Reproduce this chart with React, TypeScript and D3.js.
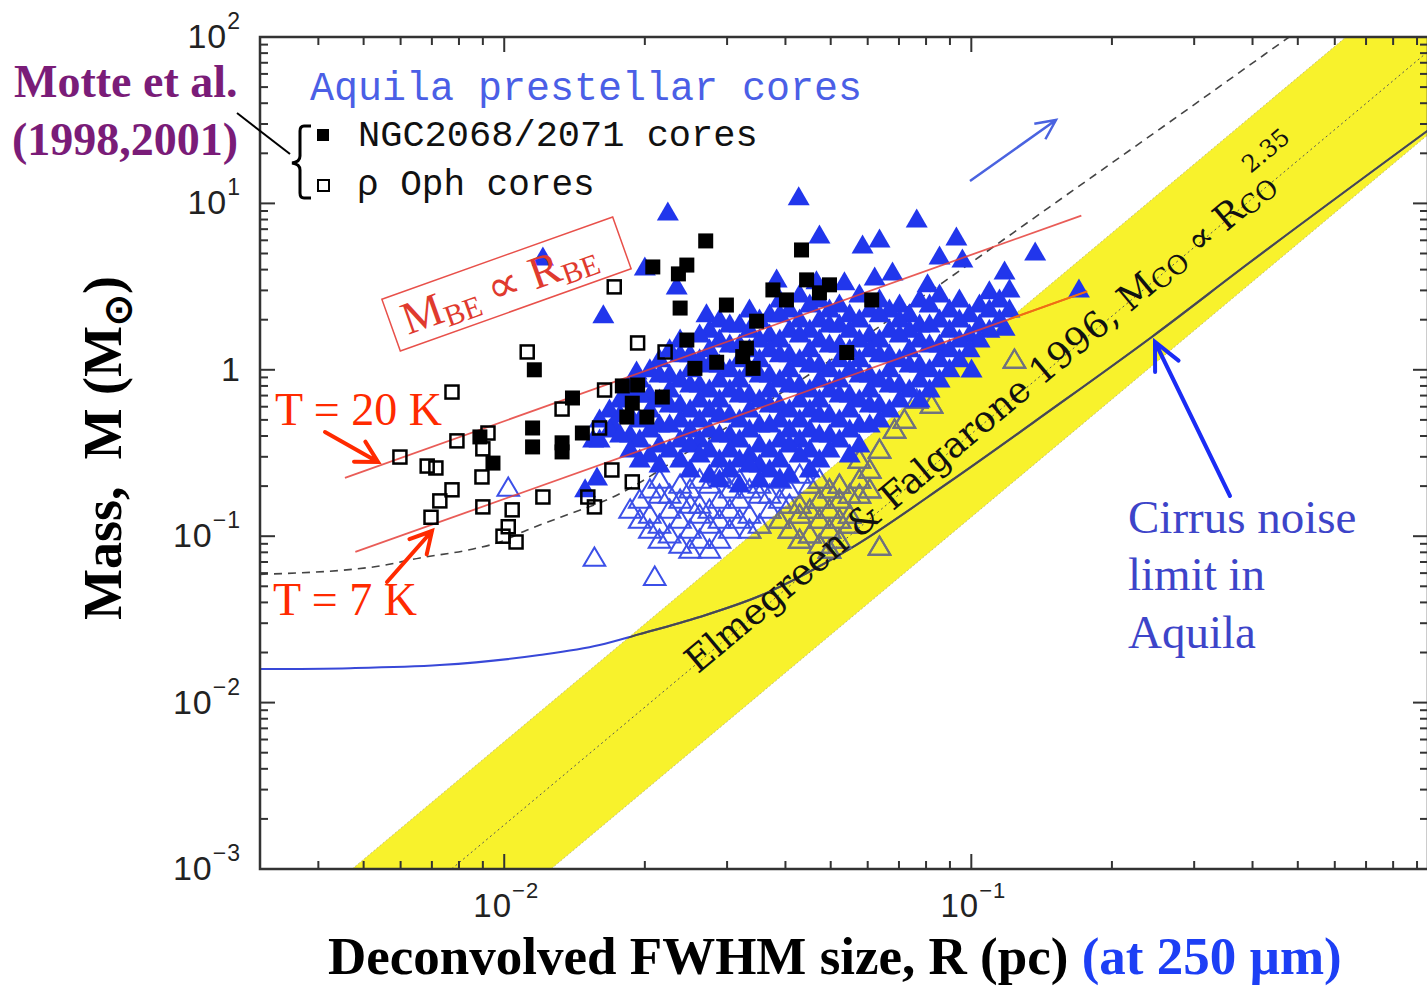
import React from 'react';
import * as d3 from 'd3';

type Pt = [number, number];

// Size R (pc) and mass M (Msun) of the cores

// NGC2068/2071 cores (Motte et al. 2001) – filled squares
const ngcCores: Pt[] = [
  [0.0270, 5.95], [0.0208, 4.15], [0.0246, 4.26], [0.0236, 3.77], [0.0238, 2.35], [0.0299, 2.45],
  [0.0433, 5.25], [0.0444, 3.47], [0.0497, 3.24], [0.0473, 2.90], [0.0376, 3.02], [0.0402, 2.63],
  [0.0347, 1.96], [0.0246, 1.51], [0.0330, 1.35], [0.0324, 1.20], [0.0341, 1.02], [0.0285, 1.11],
  [0.0256, 1.02], [0.0193, 0.81], [0.0179, 0.80], [0.0188, 0.63], [0.0218, 0.686], [0.0202, 0.52],
  [0.0183, 0.52], [0.0147, 0.417], [0.0116, 1.00], [0.0115, 0.447], [0.0115, 0.344], [0.0133, 0.364],
  [0.0133, 0.321], [0.0140, 0.677], [0.00946, 0.275], [0.00887, 0.395], [0.0541, 1.27], [0.0612, 2.63],
];

// rho Oph cores (Motte et al. 1998) – open squares
const ophCores: Pt[] = [
  [0.0172, 3.15], [0.0112, 1.28], [0.0193, 1.45], [0.00773, 0.735], [0.00598, 0.299], [0.00684, 0.264],
  [0.00714, 0.257], [0.00792, 0.374], [0.00923, 0.417], [0.00900, 0.335], [0.00896, 0.227], [0.00773, 0.190],
  [0.00728, 0.163], [0.00697, 0.130], [0.00900, 0.150], [0.0104, 0.144], [0.0102, 0.114], [0.00994, 0.100],
  [0.0106, 0.0923], [0.0121, 0.172], [0.0164, 0.756], [0.0160, 0.447], [0.0170, 0.250], [0.0188, 0.212],
  [0.0151, 0.172], [0.0156, 0.150], [0.0221, 1.28], [0.0133, 0.581],
];

// Aquila prestellar cores – filled triangles
const aquilaPrestellar: Pt[] = [
  [0.0224, 8.75], [0.0427, 10.8], [0.0764, 7.95], [0.0473, 6.37], [0.0585, 5.55], [0.0636, 6.03],
  [0.0929, 6.20], [0.137, 5.03], [0.0855, 4.76], [0.0957, 4.57], [0.1178, 3.87], [0.0200, 4.09],
  [0.0234, 3.15], [0.0163, 2.11], [0.0271, 2.14], [0.0121, 4.70], [0.170, 3.02], [0.0383, 3.47],
  [0.0466, 3.38], [0.0535, 3.33], [0.0621, 3.56], [0.0678, 3.82], [0.0806, 3.24], [0.1093, 2.94],
  [0.1207, 3.02], [0.1178, 1.78], [0.1001, 0.997], [0.0192, 0.970], [0.0155, 0.379], [0.0171, 0.466],
  [0.0149, 0.190], [0.0158, 0.224],
  [0.0389, 2.63], [0.0429, 2.82], [0.0473, 2.63], [0.0522, 2.45], [0.0576, 2.82], [0.0636, 2.63],
  [0.0702, 2.45], [0.0775, 2.63], [0.0855, 2.82], [0.0943, 2.63], [0.1041, 2.45], [0.1149, 2.63],
  [0.0335, 2.29], [0.0370, 2.14], [0.0408, 2.29], [0.0451, 2.45], [0.0497, 2.29], [0.0549, 2.14],
  [0.0606, 2.29], [0.0668, 2.29], [0.0737, 2.14], [0.0814, 2.45], [0.0898, 2.29], [0.0991, 2.14],
  [0.1093, 2.29], [0.1207, 2.29],
  [0.0289, 1.99], [0.0319, 1.86], [0.0352, 1.99], [0.0389, 2.14], [0.0429, 1.99], [0.0473, 1.99],
  [0.0522, 1.86], [0.0576, 1.99], [0.0636, 2.14], [0.0702, 1.99], [0.0775, 1.86], [0.0855, 1.99],
  [0.0943, 1.99], [0.1041, 1.86], [0.1149, 1.99],
  [0.0275, 1.73], [0.0304, 1.86], [0.0335, 1.73], [0.0370, 1.62], [0.0408, 1.73], [0.0451, 1.73],
  [0.0497, 1.86], [0.0549, 1.73], [0.0606, 1.62], [0.0668, 1.73], [0.0737, 1.73], [0.0814, 1.86],
  [0.0898, 1.73], [0.0991, 1.62], [0.1093, 1.73],
  [0.0238, 1.51], [0.0262, 1.62], [0.0289, 1.51], [0.0319, 1.41], [0.0352, 1.51], [0.0389, 1.51],
  [0.0429, 1.62], [0.0473, 1.51], [0.0522, 1.41], [0.0576, 1.51], [0.0636, 1.51], [0.0702, 1.62],
  [0.0775, 1.51], [0.0855, 1.41], [0.0943, 1.51], [0.1041, 1.51],
  [0.0226, 1.32], [0.0250, 1.23], [0.0275, 1.32], [0.0304, 1.41], [0.0335, 1.32], [0.0370, 1.32],
  [0.0408, 1.23], [0.0451, 1.32], [0.0497, 1.41], [0.0549, 1.32], [0.0606, 1.32], [0.0668, 1.23],
  [0.0737, 1.32], [0.0814, 1.41], [0.0898, 1.32], [0.0991, 1.32],
  [0.0215, 1.15], [0.0238, 1.23], [0.0262, 1.15], [0.0289, 1.07], [0.0319, 1.15], [0.0352, 1.15],
  [0.0389, 1.23], [0.0429, 1.15], [0.0473, 1.07], [0.0522, 1.15], [0.0576, 1.15], [0.0636, 1.23],
  [0.0702, 1.15], [0.0775, 1.07], [0.0855, 1.15], [0.0943, 1.15],
  [0.0205, 1.00], [0.0226, 0.93], [0.0250, 1.00], [0.0275, 1.07], [0.0304, 1.00], [0.0335, 1.00],
  [0.0370, 0.93], [0.0408, 1.00], [0.0451, 1.07], [0.0497, 1.00], [0.0549, 1.00], [0.0606, 0.93],
  [0.0668, 1.00], [0.0737, 1.07], [0.0814, 1.00], [0.0898, 1.00],
  [0.0195, 0.868], [0.0215, 0.93], [0.0238, 0.868], [0.0262, 0.81], [0.0289, 0.868], [0.0319, 0.868],
  [0.0352, 0.93], [0.0389, 0.868], [0.0429, 0.81], [0.0473, 0.868], [0.0522, 0.868], [0.0576, 0.93],
  [0.0636, 0.868], [0.0702, 0.81], [0.0775, 0.868], [0.0855, 0.868],
  [0.0186, 0.756], [0.0205, 0.705], [0.0226, 0.756], [0.0250, 0.81], [0.0275, 0.756], [0.0304, 0.756],
  [0.0335, 0.705], [0.0370, 0.756], [0.0408, 0.81], [0.0451, 0.756], [0.0497, 0.756], [0.0549, 0.705],
  [0.0606, 0.756], [0.0668, 0.81], [0.0737, 0.756], [0.0814, 0.756],
  [0.0177, 0.658], [0.0195, 0.705], [0.0215, 0.658], [0.0238, 0.614], [0.0262, 0.658], [0.0289, 0.658],
  [0.0319, 0.705], [0.0352, 0.658], [0.0389, 0.614], [0.0429, 0.658], [0.0473, 0.658], [0.0522, 0.705],
  [0.0576, 0.658], [0.0636, 0.614], [0.0702, 0.658], [0.0775, 0.658],
  [0.0168, 0.573], [0.0186, 0.535], [0.0205, 0.573], [0.0226, 0.614], [0.0250, 0.573], [0.0275, 0.573],
  [0.0304, 0.535], [0.0335, 0.573], [0.0370, 0.614], [0.0408, 0.573], [0.0451, 0.573], [0.0497, 0.535],
  [0.0549, 0.573], [0.0606, 0.614], [0.0668, 0.573],
  [0.0160, 0.499], [0.0177, 0.535], [0.0195, 0.499], [0.0215, 0.466], [0.0238, 0.499], [0.0262, 0.499],
  [0.0289, 0.535], [0.0319, 0.499], [0.0352, 0.466], [0.0389, 0.499], [0.0429, 0.499], [0.0473, 0.535],
  [0.0522, 0.499], [0.0576, 0.466], [0.0636, 0.499],
  [0.0168, 0.435], [0.0186, 0.406], [0.0205, 0.435], [0.0226, 0.466], [0.0250, 0.435], [0.0275, 0.435],
  [0.0304, 0.406], [0.0335, 0.435], [0.0370, 0.466], [0.0408, 0.435], [0.0451, 0.435], [0.0497, 0.406],
  [0.0549, 0.435], [0.0606, 0.466],
  [0.0160, 0.379], [0.0177, 0.406], [0.0195, 0.379], [0.0215, 0.353], [0.0238, 0.379], [0.0262, 0.379],
  [0.0289, 0.406], [0.0319, 0.379], [0.0352, 0.353], [0.0389, 0.379], [0.0429, 0.379], [0.0473, 0.406],
  [0.0522, 0.379], [0.0576, 0.353],
  [0.0186, 0.330], [0.0205, 0.308], [0.0226, 0.330], [0.0250, 0.353], [0.0275, 0.330], [0.0304, 0.330],
  [0.0335, 0.308], [0.0370, 0.330], [0.0408, 0.353], [0.0451, 0.330], [0.0497, 0.330], [0.0549, 0.308],
  [0.0195, 0.287], [0.0215, 0.268], [0.0238, 0.287], [0.0262, 0.308], [0.0289, 0.287], [0.0319, 0.287],
  [0.0352, 0.268], [0.0389, 0.287], [0.0429, 0.308], [0.0473, 0.287],
  [0.0250, 0.250], [0.0275, 0.233], [0.0304, 0.250], [0.0335, 0.268], [0.0370, 0.250], [0.0408, 0.233],
  [0.0451, 0.250],
  [0.0289, 0.218], [0.0319, 0.203], [0.0352, 0.218], [0.0389, 0.218],
];

// Aquila unbound starless cores – open triangles
const aquilaStarless: Pt[] = [
  [0.0102, 0.195], [0.0156, 0.0740], [0.0210, 0.0568], [0.0636, 0.0861], [0.1237, 1.145],
  [0.0215, 0.218], [0.0238, 0.203], [0.0262, 0.218], [0.0289, 0.233], [0.0319, 0.218], [0.0352, 0.203],
  [0.0389, 0.218], [0.0429, 0.233], [0.0473, 0.218], [0.0522, 0.203],
  [0.0205, 0.190], [0.0226, 0.177], [0.0250, 0.190], [0.0275, 0.203], [0.0304, 0.190], [0.0335, 0.190],
  [0.0370, 0.177], [0.0408, 0.190], [0.0451, 0.203], [0.0497, 0.190], [0.0549, 0.177],
  [0.0195, 0.165], [0.0215, 0.177], [0.0238, 0.165], [0.0262, 0.154], [0.0289, 0.165], [0.0319, 0.165],
  [0.0352, 0.177], [0.0389, 0.165], [0.0429, 0.154], [0.0473, 0.165], [0.0522, 0.165], [0.0576, 0.177],
  [0.0186, 0.144], [0.0205, 0.134], [0.0226, 0.144], [0.0250, 0.154], [0.0275, 0.144], [0.0304, 0.144],
  [0.0335, 0.134], [0.0370, 0.144], [0.0408, 0.154], [0.0451, 0.144], [0.0497, 0.144], [0.0549, 0.134],
  [0.0195, 0.125], [0.0215, 0.117], [0.0238, 0.125], [0.0262, 0.134], [0.0289, 0.125], [0.0319, 0.125],
  [0.0352, 0.117], [0.0389, 0.125], [0.0429, 0.134], [0.0473, 0.125], [0.0522, 0.125],
  [0.0205, 0.109], [0.0226, 0.102], [0.0250, 0.109], [0.0275, 0.117], [0.0304, 0.109], [0.0335, 0.109],
  [0.0408, 0.109], [0.0451, 0.102], [0.0497, 0.109], [0.0549, 0.117],
  [0.0215, 0.0949], [0.0238, 0.0886], [0.0262, 0.0949], [0.0289, 0.0949], [0.0429, 0.0949],
  [0.0473, 0.0886], [0.0522, 0.0949],
  [0.0250, 0.0826], [0.0275, 0.0826], [0.0497, 0.0826],
  [0.0606, 0.250], [0.0576, 0.287], [0.0636, 0.330], [0.0685, 0.435], [0.0719, 0.499], [0.0764, 0.658],
  [0.0822, 0.614], [0.0576, 0.218], [0.0606, 0.190],
];

// Cirrus-noise completeness limit in Aquila
const cirrusLimit: Pt[] = [
  [0.00300, 0.0159], [0.00468, 0.0161], [0.00728, 0.0168], [0.0119, 0.0193], [0.0160, 0.0222],
  [0.0195, 0.0258], [0.0262, 0.0327], [0.0352, 0.0437], [0.0549, 0.0838], [0.0898, 0.212],
  [0.147, 0.566], [0.243, 1.57], [0.393, 4.38], [0.959, 28.0],
];

// Dashed detection-limit curve
const detectionLimit: Pt[] = [
  [0.00300, 0.0590], [0.00524, 0.0653], [0.00660, 0.0740], [0.00858, 0.0838], [0.00979, 0.0923],
  [0.0112, 0.109], [0.0132, 0.130], [0.0171, 0.172], [0.0262, 0.357], [0.0429, 0.858],
  [0.0636, 1.82], [0.0867, 3.33], [0.147, 9.51], [0.264, 30.4], [0.479, 100],
];

// Critical Bonnor-Ebert masses, M_BE ∝ R_BE
const bonnorEbert20K: Pt[] = [[0.00456, 0.224], [0.172, 8.45]];
const bonnorEbert7K: Pt[] = [[0.00480, 0.0804], [0.177, 2.96]];

// Elmegreen & Falgarone (1996) CO clump relation, M ∝ R^2.35
const larsonIndex = 2.35;
const larsonLogNorm = 1.965;
const larsonHalfWidthDex = 0.5;

const xTickLabels = [
  { value: 0.01, exp: '\u22122' },
  { value: 0.1, exp: '\u22121' },
];
const yTickLabels = [
  { value: 100, exp: '2' },
  { value: 10, exp: '1' },
  { value: 1, exp: '' },
  { value: 0.1, exp: '\u22121' },
  { value: 0.01, exp: '\u22122' },
  { value: 0.001, exp: '\u22123' },
];

const X0 = 260, X1 = 1428, Y0 = 37, Y1 = 869;

const FILLED_TRI = 'M0,-11.5L11,7.5L-11,7.5Z';
const OPEN_TRI = 'M0,-10.5L10.8,7.8L-10.8,7.8Z';

function arrow(x1: number, y1: number, x2: number, y2: number, len: number, spread: number) {
  const a = Math.atan2(y2 - y1, x2 - x1);
  const b1 = a + Math.PI - spread;
  const b2 = a + Math.PI + spread;
  return `M${x1},${y1}L${x2},${y2}M${x2 + len * Math.cos(b1)},${y2 + len * Math.sin(b1)}L${x2},${y2}L${x2 + len * Math.cos(b2)},${y2 + len * Math.sin(b2)}`;
}

export default function App() {
  const x = d3.scaleLog().domain([0.003, 0.95]).range([X0, X1]);
  const y = d3.scaleLog().domain([1e-3, 1e2]).range([Y1, Y0]);
  const straight = d3.line<Pt>().x(d => x(d[0])).y(d => y(d[1]));
  const smooth = d3.line<Pt>().x(d => x(d[0])).y(d => y(d[1])).curve(d3.curveMonotoneX);

  const larson = (r: number, off: number) =>
    Math.pow(10, larsonLogNorm + off + larsonIndex * Math.log10(r));
  const [r0, r1] = x.domain();
  const band: Pt[] = [
    [r0, larson(r0, larsonHalfWidthDex)],
    [r1, larson(r1, larsonHalfWidthDex)],
    [r1, larson(r1, -larsonHalfWidthDex)],
    [r0, larson(r0, -larsonHalfWidthDex)],
  ];
  const bandPath = straight(band) + 'Z';
  const upperEdge: Pt[] = [band[0], band[1]];
  const lowerEdge: Pt[] = [band[3], band[2]];
  const centre: Pt[] = [[r0, larson(r0, 0)], [r1, larson(r1, 0)]];

  const rA = x.invert(692);
  const rB = x.invert(1300);
  const pA: Pt = [x(rA), y(larson(rA, 0))];
  const pB: Pt = [x(rB), y(larson(rB, 0))];
  const bandAngle = (Math.atan2(pB[1] - pA[1], pB[0] - pA[0]) * 180) / Math.PI;

  const isMajor = (v: number) => Math.abs(Math.log10(v) - Math.round(Math.log10(v))) < 1e-6;
  const xt = x.ticks();
  const yt = y.ticks();

  const blue = '#2136ec';
  const openBlue = '#3b4fe8';
  const red = '#e5403a';
  const annotRed = '#ff2a00';

  return (
    <svg width={1427} height={986} style={{ position: 'absolute', left: 0, top: 0, background: '#fff' }}>
      <defs>
        <clipPath id="plotArea">
          <rect x={X0} y={Y0} width={X1 - X0} height={Y1 - Y0} />
        </clipPath>
        <clipPath id="bandArea">
          <path d={bandPath} />
        </clipPath>
      </defs>
      <rect x={0} y={0} width={1427} height={986} fill="#fff" />

      <g clipPath="url(#plotArea)">
        {/* CO clump band */}
        <path d={bandPath} fill="#f8f22c" />
        <path d={straight(upperEdge)!} fill="none" stroke="#c9c27a" strokeWidth={1} strokeDasharray="2,2" />
        <path d={straight(lowerEdge)!} fill="none" stroke="#c9c27a" strokeWidth={1} strokeDasharray="2,2" />
        <path d={straight(centre)!} fill="none" stroke="#555" strokeWidth={1} strokeDasharray="2,3" />

        {/* detection limit */}
        <path d={smooth(detectionLimit)!} fill="none" stroke="#444" strokeWidth={1.6} strokeDasharray="8,6" />

        {/* cirrus noise limit */}
        <path d={smooth(cirrusLimit)!} fill="none" stroke="#3848d8" strokeWidth={2} />
        <path d={smooth(cirrusLimit)!} fill="none" stroke="#4a4a4a" strokeWidth={2} clipPath="url(#bandArea)" />

        {/* unbound starless cores */}
        <g fill="none" stroke={openBlue} strokeWidth={2}>
          {aquilaStarless.map((d, i) => (
            <path key={i} d={OPEN_TRI} transform={`translate(${x(d[0])},${y(d[1])})`} />
          ))}
        </g>
        <g fill="none" stroke="#747474" strokeWidth={2} clipPath="url(#bandArea)">
          {aquilaStarless.map((d, i) => (
            <path key={i} d={OPEN_TRI} transform={`translate(${x(d[0])},${y(d[1])})`} />
          ))}
        </g>

        {/* prestellar cores */}
        <g fill={blue}>
          {aquilaPrestellar.map((d, i) => (
            <path key={i} d={FILLED_TRI} transform={`translate(${x(d[0])},${y(d[1])})`} />
          ))}
        </g>

        {/* Bonnor-Ebert lines */}
        <path d={straight(bonnorEbert20K)!} stroke={red} strokeWidth={1.8} opacity={0.85} fill="none" />
        <path d={straight(bonnorEbert7K)!} stroke={red} strokeWidth={1.8} opacity={0.85} fill="none" />
        <path d={straight(bonnorEbert7K)!} stroke="#f07010" strokeWidth={1.8} fill="none" clipPath="url(#bandArea)" />

        {/* Motte et al. cores */}
        <g fill="#000">
          {ngcCores.map((d, i) => (
            <rect key={i} x={x(d[0]) - 7.5} y={y(d[1]) - 7.5} width={15} height={15} />
          ))}
        </g>
        <g fill="none" stroke="#000" strokeWidth={2.5}>
          {ophCores.map((d, i) => (
            <rect key={i} x={x(d[0]) - 6.5} y={y(d[1]) - 6.5} width={13} height={13} />
          ))}
        </g>
      </g>

      {/* band label */}
      <text
        transform={`translate(${pA[0]},${pA[1]}) rotate(${bandAngle})`}
        y={9}
        fontFamily="DejaVu Serif"
        fontSize={36}
        fill="#111"
      >
        Elmegreen &amp; Falgarone 1996, M<tspan fontSize={26} dy={3}>CO</tspan>
        <tspan dy={-3}> ∝ R</tspan>
        <tspan fontSize={26} dy={3}>CO</tspan>
        <tspan fontSize={24} dy={-32} dx={-12}>2.35</tspan>
      </text>

      {/* frame and ticks */}
      <rect x={X0} y={Y0} width={X1 - X0} height={Y1 - Y0} fill="none" stroke="#333" strokeWidth={2.5} />
      <g stroke="#333" strokeWidth={2}>
        {xt.map((v, i) => {
          const len = isMajor(v) ? 15 : 8;
          const px = x(v);
          return (
            <g key={i}>
              <line x1={px} x2={px} y1={Y1} y2={Y1 - len} />
              <line x1={px} x2={px} y1={Y0} y2={Y0 + len} />
            </g>
          );
        })}
        {yt.map((v, i) => {
          const len = isMajor(v) ? 15 : 8;
          const py = y(v);
          return (
            <g key={i}>
              <line x1={X0} x2={X0 + len} y1={py} y2={py} />
              <line x1={X1} x2={X1 - len} y1={py} y2={py} />
            </g>
          );
        })}
      </g>
      <g fontFamily="Liberation Sans" fill="#222">
        {yTickLabels.map((t, i) => (
          <text key={i} x={241} y={y(t.value) + 11} textAnchor="end" fontSize={34} letterSpacing={1}>
            {t.exp === '' ? '1' : '10'}
            {t.exp !== '' && (
              <tspan fontSize={23} dy={-19}>
                {t.exp}
              </tspan>
            )}
          </text>
        ))}
        {xTickLabels.map((t, i) => (
          <text key={i} x={x(t.value) + 2} y={917} textAnchor="middle" fontSize={33} letterSpacing={1}>
            10
            <tspan fontSize={22} dy={-19}>
              {t.exp}
            </tspan>
          </text>
        ))}
      </g>

      {/* axis titles */}
      <text
        transform="translate(121,448) rotate(-90)"
        textAnchor="middle"
        fontFamily="Liberation Serif"
        fontWeight="bold"
        fontSize={54}
        fill="#000"
        style={{ whiteSpace: 'pre' }}
      >
        {'Mass,  M (M'}
        <tspan fontSize={38} dy={10}>⊙</tspan>
        <tspan dy={-10}>)</tspan>
      </text>
      <text x={328} y={974} fontFamily="Liberation Serif" fontWeight="bold" fontSize={53} fill="#000">
        Deconvolved FWHM size, R (pc) <tspan fill="#1d3ff5">(at 250 µm)</tspan>
      </text>

      {/* legend */}
      <text x={310} y={100} fontFamily="Liberation Mono" fontSize={40} fill="#4b5fe6">
        Aquila prestellar cores
      </text>
      <rect x={317} y={129} width={12} height={12} fill="#000" />
      <text x={358} y={146} fontFamily="Liberation Mono" fontSize={37} fill="#111">
        NGC2068/2071 cores
      </text>
      <rect x={318} y={180} width={11} height={11} fill="none" stroke="#000" strokeWidth={2} />
      <text x={357} y={195} fontFamily="Liberation Mono" fontSize={36} fill="#111">
        ρ Oph cores
      </text>
      <path
        d="M311,126 L304,126 Q300,126 300,131 L300,156 Q300,162 292,163 Q300,164 300,170 L300,193 Q300,198 304,198 L311,198"
        fill="none"
        stroke="#000"
        strokeWidth={3}
      />
      <line x1={237} y1={113} x2={290} y2={154} stroke="#000" strokeWidth={2} />
      <text fontFamily="Liberation Serif" fontWeight="bold" fontSize={46} fill="#7a1c78">
        <tspan x={14} y={97}>Motte et al.</tspan>
        <tspan x={12} y={155}>(1998,2001)</tspan>
      </text>

      {/* Bonnor-Ebert label */}
      <g transform="translate(506.5,284) rotate(-19.6)">
        <rect x={-122.5} y={-27.5} width={245} height={55} fill="none" stroke="#e8504a" strokeWidth={1.5} />
        <text x={-110} y={15} fontFamily="Liberation Serif" fontSize={46} fill="#e03a2e">
          M<tspan fontSize={30} dy={6}>BE</tspan>
          <tspan dy={-6}> ∝ R</tspan>
          <tspan fontSize={30} dy={6}>BE</tspan>
        </text>
      </g>

      {/* temperature annotations */}
      <text x={275} y={425} fontFamily="Liberation Serif" fontSize={46} fill={annotRed}>
        T = 20 K
      </text>
      <path d={arrow(325, 432, 378, 462, 24, 0.5)} fill="none" stroke={annotRed} strokeWidth={4} strokeLinecap="round" />
      <text x={273} y={615} fontFamily="Liberation Serif" fontSize={46} fill={annotRed}>
        T = 7 K
      </text>
      <path d={arrow(387, 582, 432, 531, 24, 0.5)} fill="none" stroke={annotRed} strokeWidth={4} strokeLinecap="round" />

      {/* cirrus annotation */}
      <text fontFamily="Liberation Serif" fontSize={47} fill="#3d44c9">
        <tspan x={1128} y={533}>Cirrus noise</tspan>
        <tspan x={1128} y={590}>limit in</tspan>
        <tspan x={1128} y={648}>Aquila</tspan>
      </text>
      <path d={arrow(1230, 496, 1155, 342, 30, 0.45)} fill="none" stroke="#1a2cf5" strokeWidth={4} strokeLinecap="round" />

      {/* direction arrow */}
      <path d={arrow(970, 181, 1056, 120, 22, 0.45)} fill="none" stroke="#4a63e0" strokeWidth={2.5} />
    </svg>
  );
}
